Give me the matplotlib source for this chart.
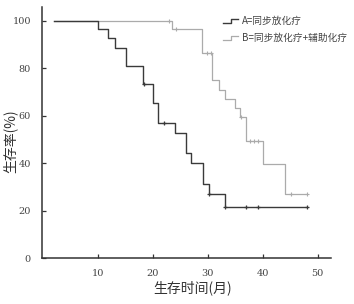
import matplotlib
matplotlib.use("Agg")
import matplotlib.pyplot as plt
from matplotlib.lines import Line2D
from matplotlib.legend_handler import HandlerBase

plt.rcParams['font.family'] = ['Noto Sans CJK SC', 'DejaVu Sans']

# Group A: 同步放化疗
a_time = [2, 10.1, 11.9, 13.1, 15.1, 18.2, 20.1, 21.0, 24.0, 26.0, 27.0, 29.1, 30.2, 33.1, 48]
a_surv = [100, 96.4, 92.6, 88.6, 81.1, 73.4, 65.2, 57.1, 52.9, 44.4, 40.3, 31.3, 27.0, 21.7, 21.7]
a_cens_t = [18.4, 22.0, 30.3, 33.1, 37.0, 39.2, 48.0]
a_cens_s = [73.4, 57.1, 27.0, 21.7, 21.7, 21.7, 21.7]

# Group B: 同步放化疗+辅助化疗
b_time = [2, 23.5, 29.0, 30.8, 32.1, 33.1, 35.0, 35.9, 37.0, 40.0, 44.0, 48]
b_surv = [100, 96.5, 86.3, 75.1, 70.8, 67.0, 63.1, 59.3, 49.5, 39.7, 27.1, 27.1]
b_cens_t = [23.0, 24.2, 29.8, 30.6, 36.1, 37.7, 38.4, 39.2, 45.1, 48.0]
b_cens_s = [100, 96.5, 86.3, 86.3, 59.3, 49.5, 49.5, 49.5, 27.1, 27.1]

labels = ['A=同步放化疗', 'B=同步放化疗+辅助化疗']
xticks = [10, 20, 30, 40, 50]
yticks = [0, 20, 40, 60, 80, 100]

col_a = '#3a3a3a'
col_b = '#ababab'

fig = plt.figure(figsize=(3.54, 3.04), dpi=100)
ax = fig.add_axes([42/354, 1-258.3/304, 289/354, 251.3/304])

ax.step(b_time, b_surv, where='post', color=col_b, lw=0.9)
ax.plot(b_cens_t, b_cens_s, ls='none', marker='+', ms=3.5, mew=0.8, color=col_b)
ax.step(a_time, a_surv, where='post', color=col_a, lw=1.0)
ax.plot(a_cens_t, a_cens_s, ls='none', marker='+', ms=3.5, mew=0.9, color=col_a)

ax.set_xlim(-0.13, 52.4)
ax.set_ylim(0, 105.8)
for s in ['top', 'right']:
    ax.spines[s].set_visible(False)
for s in ['left', 'bottom']:
    ax.spines[s].set_color('#333333')
    ax.spines[s].set_linewidth(1.1)
ax.set_xticks(xticks)
ax.set_yticks(yticks)
ax.tick_params(direction='in', length=3, width=0.9, color='#333333',
               labelsize=7, labelcolor='#444444', pad=8)
for lab in ax.get_xticklabels() + ax.get_yticklabels():
    lab.set_family('DejaVu Serif')

ax.set_xlabel('生存时间(月)', fontsize=10, color='#333333')
ax.set_ylabel('生存率(%)', fontsize=10, color='#333333')
ax.xaxis.set_label_coords((193 - 42) / 289, -(280 - 258.3) / 251.3)
ax.yaxis.set_label_coords((17 - 42) / 289, (258.3 - 141) / 251.3)


class StepHandler(HandlerBase):
    def create_artists(self, legend, orig_handle, xdescent, ydescent,
                       width, height, fontsize, trans):
        x0, x1 = -xdescent, -xdescent + width
        xm = x0 + width * 0.55
        y0 = -ydescent + height * 0.1
        y1 = -ydescent + height * 0.75
        l = Line2D([x0, xm, xm, x1], [y0, y0, y1, y1],
                   color=orig_handle.get_color(), lw=orig_handle.get_linewidth(),
                   transform=trans)
        return [l]


h_a = Line2D([], [], color=col_a, lw=1.0)
h_b = Line2D([], [], color=col_b, lw=0.9)
leg = ax.legend([h_a, h_b], labels, handler_map={Line2D: StepHandler()},
                loc='upper left', bbox_to_anchor=(218/354, 1-11/304),
                bbox_transform=fig.transFigure, frameon=False,
                fontsize=7, handlelength=1.6, handletextpad=0.4,
                labelspacing=0.75, borderpad=0)
for t in leg.get_texts():
    t.set_color('#444444')

fig.savefig('out.png', dpi=100)
